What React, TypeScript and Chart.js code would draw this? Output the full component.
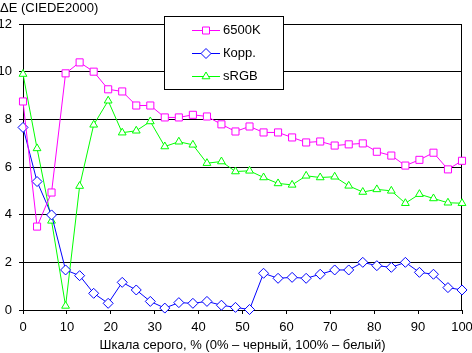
import React, { useEffect, useRef } from 'react';
import { Chart, registerables } from 'chart.js';

Chart.register(...registerables);

const grayLevels = [
  0, 3.2, 6.5, 9.7, 12.9, 16.1, 19.4, 22.6, 25.8, 29.0, 32.3, 35.5, 38.7, 41.9, 45.2, 48.4,
  51.6, 54.8, 58.1, 61.3, 64.5, 67.7, 71.0, 74.2, 77.4, 80.6, 83.9, 87.1, 90.3, 93.5, 96.8, 100,
];

const values6500K = [
  8.75, 3.5, 4.93, 9.93, 10.39, 10.0, 9.26, 9.17, 8.58, 8.58, 8.08, 8.08, 8.19, 8.12, 7.79, 7.49,
  7.7, 7.45, 7.45, 7.24, 7.03, 7.07, 6.9, 6.95, 6.99, 6.64, 6.48, 6.06, 6.3, 6.6, 5.9, 6.26,
];

const valuesCorr = [
  7.66, 5.39, 3.99, 1.68, 1.44, 0.7, 0.28, 1.16, 0.84, 0.36, 0.08, 0.31, 0.28, 0.36, 0.2, 0.11,
  0.02, 1.54, 1.33, 1.37, 1.33, 1.5, 1.68, 1.68, 2.0, 1.86, 1.79, 2.0, 1.58, 1.5, 0.94, 0.84,
];

const valuesSRGB = [
  9.9, 6.78, 3.74, 0.17, 5.2, 7.77, 8.78, 7.44, 7.52, 7.91, 6.86, 7.06, 6.93, 6.16, 6.23, 5.81,
  5.84, 5.56, 5.31, 5.25, 5.63, 5.56, 5.59, 5.21, 4.95, 5.06, 5.0, 4.48, 4.86, 4.68, 4.5, 4.48,
];

const seriesNames = ['6500K', 'Корр.', 'sRGB'];
const seriesColors = ['#ff00ff', '#0000ff', '#00ff00'];
const yAxisTitle = 'ΔE (CIEDE2000)';
const xAxisTitle = 'Шкала серого, % (0% – черный, 100% – белый)';

const FONT = '"Liberation Sans", Arial, sans-serif';

function drawMarker(ctx: CanvasRenderingContext2D, kind: string, x: number, y: number, color: string) {
  ctx.save();
  ctx.fillStyle = '#fff';
  ctx.strokeStyle = color;
  ctx.lineWidth = 1;
  ctx.beginPath();
  if (kind === 'rect') {
    ctx.rect(x - 3.5, y - 3.5, 7, 7);
  } else if (kind === 'rectRot') {
    ctx.moveTo(x - 5, y);
    ctx.lineTo(x, y - 5);
    ctx.lineTo(x + 5, y);
    ctx.lineTo(x, y + 5);
    ctx.closePath();
  } else {
    const r = 4.5;
    ctx.moveTo(x, y - r);
    ctx.lineTo(x + r * 0.866, y + r / 2);
    ctx.lineTo(x - r * 0.866, y + r / 2);
    ctx.closePath();
  }
  ctx.fill();
  ctx.stroke();
  ctx.restore();
}

const decorPlugin = {
  id: 'decor',
  beforeDatasetsDraw(chart: any) {
    const ctx: CanvasRenderingContext2D = chart.ctx;
    const a = chart.chartArea;
    ctx.save();
    ctx.strokeStyle = '#000';
    ctx.lineWidth = 1;
    ctx.beginPath();
    const rx = Math.round(a.right) - 0.5;
    ctx.moveTo(rx, Math.round(a.top));
    ctx.lineTo(rx, Math.round(a.bottom) + 1);
    ctx.stroke();
    ctx.restore();
  },
  afterDraw(chart: any) {
    const ctx: CanvasRenderingContext2D = chart.ctx;
    ctx.save();
    // y axis title
    ctx.fillStyle = '#000';
    ctx.font = `13px ${FONT}`;
    ctx.textAlign = 'left';
    ctx.textBaseline = 'middle';
    ctx.fillText(yAxisTitle, 0, 8);

    // legend box
    const bx = 164.5, by = 16.5, bw = 119, bh = 73;
    ctx.fillStyle = '#fff';
    ctx.fillRect(bx, by, bw, bh);
    ctx.strokeStyle = '#000';
    ctx.lineWidth = 1;
    ctx.strokeRect(bx, by, bw, bh);
    const styles = ['rect', 'rectRot', 'triangle'];
    const rows = [30.5, 53.5, 76.5];
    for (let i = 0; i < 3; i++) {
      const y = rows[i];
      ctx.strokeStyle = seriesColors[i];
      ctx.beginPath();
      ctx.moveTo(192, y);
      ctx.lineTo(220, y);
      ctx.stroke();
      drawMarker(ctx, styles[i], 206, y, seriesColors[i]);
      ctx.fillStyle = '#000';
      ctx.font = `13px ${FONT}`;
      ctx.textAlign = 'left';
      ctx.textBaseline = 'middle';
      ctx.fillText(seriesNames[i], 223, y);
    }
    ctx.restore();
  },
};

export default function App() {
  const ref = useRef<HTMLCanvasElement | null>(null);
  useEffect(() => {
    if (!ref.current) return;
    Chart.defaults.font.family = FONT;
    Chart.defaults.color = '#000';
    const mk = (vals: number[]) => vals.map((v, i) => ({ x: grayLevels[i], y: v }));
    const pointStyles = ['rect', 'rectRot', 'triangle'];
    const radii = [5, 5, 4.5];
    const all = [values6500K, valuesCorr, valuesSRGB];
    const chart = new Chart(ref.current, {
      type: 'line',
      data: {
        datasets: all.map((vals, i) => ({
          label: seriesNames[i],
          data: mk(vals),
          borderColor: seriesColors[i],
          backgroundColor: '#fff',
          borderWidth: 1,
          pointStyle: pointStyles[i] as any,
          pointRadius: radii[i],
          pointBorderWidth: 1,
          pointBackgroundColor: '#fff',
          pointBorderColor: seriesColors[i],
          tension: 0,
          fill: false,
          clip: false as any,
        })),
      },
      options: {
        animation: false,
        responsive: false,
        maintainAspectRatio: false,
        layout: { padding: { top: 24, right: 10, left: 0, bottom: 0 } },
        plugins: { legend: { display: false }, tooltip: { enabled: false }, title: { display: false } },
        scales: {
          x: {
            type: 'linear',
            min: 0,
            max: 100,
            ticks: { stepSize: 10, padding: 6, font: { size: 13 }, color: '#000', maxRotation: 0 },
            grid: { drawOnChartArea: false, drawTicks: true, tickLength: 4, color: '#000' },
            border: { display: true, color: '#000' },
            title: { display: true, text: xAxisTitle, font: { size: 13 }, color: '#000', padding: { top: 0, bottom: 0 } },
            afterFit: (s: any) => { s.height = 43; s.paddingLeft = 0; s.paddingRight = 10; },
          },
          y: {
            type: 'linear',
            min: 0,
            max: 12,
            ticks: { stepSize: 2, padding: 7, font: { size: 13 }, color: '#000' },
            grid: { drawOnChartArea: true, drawTicks: true, tickLength: 4, color: '#000' },
            border: { display: true, color: '#000' },
            afterFit: (s: any) => { s.width = 23; s.paddingTop = 0; s.paddingBottom = 0; },
          },
        },
      },
      plugins: [decorPlugin],
    });
    return () => chart.destroy();
  }, []);
  return (
    <div style={{ position: 'fixed', left: 0, top: 0, width: 472, height: 353, background: '#fff' }}>
      <canvas ref={ref} width={472} height={353} style={{ display: 'block' }} />
    </div>
  );
}
